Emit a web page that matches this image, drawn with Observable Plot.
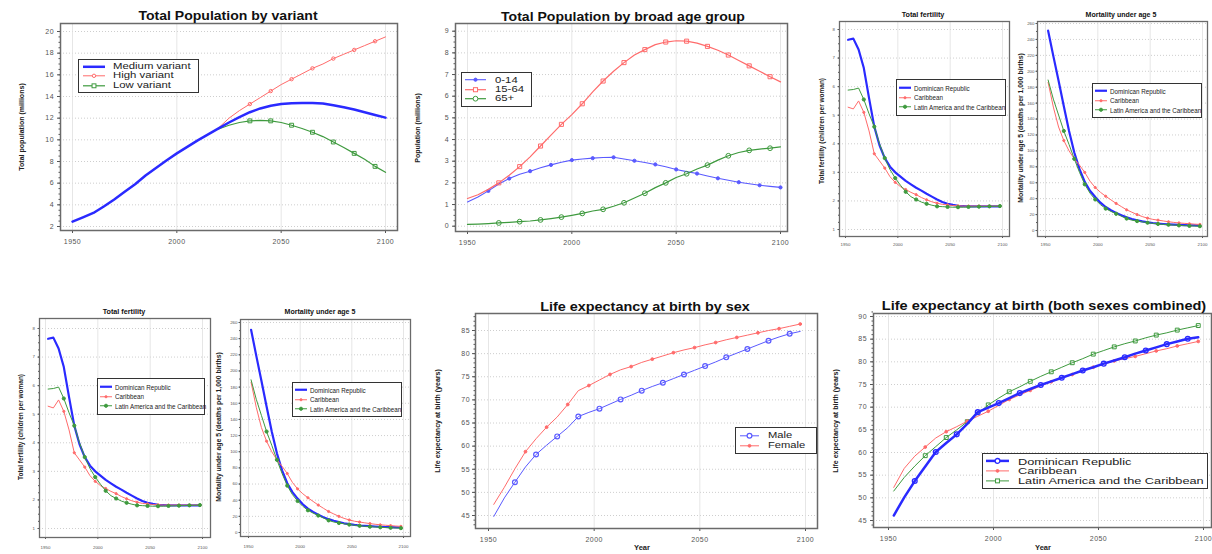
<!DOCTYPE html>
<html><head><meta charset="utf-8">
<script src="https://cdn.jsdelivr.net/npm/d3@7"></script>
<script src="https://cdn.jsdelivr.net/npm/@observablehq/plot@0.6"></script>
<style>
body{margin:0;background:#fff;}
#root{position:relative;width:1212px;height:554px;overflow:hidden;background:#fff;font-family:"Liberation Sans",Arial,sans-serif;}
.ttl{position:absolute;white-space:nowrap;font-weight:bold;color:#111;line-height:1;}
.ylab{position:absolute;white-space:nowrap;font-weight:bold;color:#222;line-height:1;}
.leg{position:absolute;border:1px solid #333;background:#fff;box-sizing:border-box;display:flex;flex-direction:column;justify-content:center;}
.leg .row{display:flex;align-items:center;white-space:nowrap;color:#222;overflow:visible;}
svg{position:absolute;}
</style></head><body><div id="root"></div><script>
// ---------- data ----------
const yearsFull = [1950,1955,1960,1965,1970,1975,1980,1985,1990,1995,2000,2005,2010,2015,2020,2025,2030,2035,2040,2045,2050,2055,2060,2065,2070,2075,2080,2085,2090,2095,2100];
const yearsMid = [1952.5,1957.5,1962.5,1967.5,1972.5,1977.5,1982.5,1987.5,1992.5,1997.5,2002.5,2007.5,2012.5,2017.5,2022.5,2027.5,2032.5,2037.5,2042.5,2047.5,2052.5,2057.5,2062.5,2067.5,2072.5,2077.5,2082.5,2087.5,2092.5,2097.5];
const yearsProj = [2020,2025,2030,2035,2040,2045,2050,2055,2060,2065,2070,2075,2080,2085,2090,2095,2100];
const xTickYears = [1950,2000,2050,2100];

const popMedium = [2.45,2.85,3.25,3.85,4.5,5.2,5.9,6.7,7.4,8.1,8.75,9.35,9.95,10.5,11.05,11.6,12.1,12.55,12.9,13.15,13.3,13.38,13.4,13.4,13.35,13.2,13.0,12.8,12.55,12.3,12.05];
const popHigh = [11.1,12.0,12.7,13.3,13.9,14.5,15.1,15.6,16.1,16.6,17.0,17.5,17.9,18.3,18.7,19.1,19.5];
const popLow = [11.0,11.35,11.6,11.75,11.8,11.75,11.6,11.35,11.05,10.7,10.3,9.8,9.3,8.75,8.2,7.55,7.0];

const age0014 = [1.12,1.35,1.63,1.95,2.2,2.4,2.54,2.7,2.83,2.95,3.05,3.1,3.14,3.17,3.18,3.1,3.02,2.94,2.85,2.74,2.62,2.52,2.43,2.32,2.21,2.12,2.03,1.96,1.89,1.84,1.79];
const age1564 = [1.28,1.45,1.7,2.0,2.35,2.75,3.2,3.7,4.2,4.7,5.15,5.65,6.2,6.7,7.15,7.55,7.9,8.15,8.38,8.5,8.56,8.54,8.45,8.3,8.12,7.9,7.65,7.4,7.15,6.9,6.66];
const age65plus = [0.08,0.1,0.12,0.15,0.18,0.21,0.24,0.29,0.35,0.42,0.5,0.59,0.7,0.78,0.92,1.08,1.3,1.52,1.78,2.0,2.25,2.42,2.64,2.82,3.05,3.25,3.4,3.5,3.56,3.6,3.66];

const fertDR  = [7.64,7.68,7.3,6.65,5.6,4.6,3.95,3.5,3.2,3.0,2.85,2.7,2.58,2.46,2.36,2.25,2.15,2.05,1.96,1.9,1.86,1.83,1.82,1.81,1.81,1.81,1.81,1.81,1.81,1.81];
const fertCar = [5.28,5.22,5.5,5.1,4.45,3.65,3.4,3.15,2.85,2.65,2.5,2.4,2.3,2.22,2.12,2.04,1.97,1.92,1.88,1.86,1.84,1.83,1.82,1.82,1.82,1.82,1.82,1.82,1.82,1.82];
const fertLAC = [5.88,5.9,5.95,5.55,5.05,4.6,4.0,3.5,3.1,2.8,2.55,2.32,2.15,2.05,1.96,1.9,1.85,1.81,1.8,1.79,1.78,1.78,1.78,1.79,1.79,1.8,1.8,1.81,1.81,1.82];

const mortDR  = [251,219,188,156,125,98,77,61,50,42,35,29.5,25.5,22,19,16.5,14.5,12.8,11.4,10.3,9.4,8.7,8.2,7.8,7.4,7.1,6.8,6.6,6.4,6.2];
const mortCar = [186,155,130,113,100,90,82,73,62,54,48,43,38.5,34,30,26,23,20,17.5,15.5,14,13,12,11,10.2,9.5,9,8.5,8,7.6];
const mortLAC = [189,165,145,125,108,90,73,58,47,39,32.5,27.5,24,21,18,15,13,11.8,10.8,9.8,9,8.3,7.7,7.2,6.8,6.4,6.1,5.8,5.6,5.4];

const leMale   = [44.8,48.8,52.2,55.5,58.2,60.2,62.1,64.0,66.4,67.3,68.1,69.1,70.1,71.0,72.0,72.9,73.7,74.6,75.5,76.4,77.3,78.2,79.2,80.1,81.0,81.9,82.8,83.6,84.3,84.8];
const leFemale = [47.4,51.1,55.1,58.8,61.6,64.1,66.3,69.0,72.0,73.1,74.3,75.5,76.5,77.2,78.1,78.8,79.5,80.2,80.8,81.3,81.9,82.4,83.0,83.5,84.0,84.5,85.0,85.4,85.9,86.4];

const leDR  = [46.1,50.1,53.7,56.9,60.1,62.1,64.0,66.3,68.9,69.9,70.9,72.0,73.1,74.0,74.9,75.7,76.5,77.3,78.1,78.8,79.6,80.3,81.0,81.8,82.5,83.2,83.9,84.5,85.1,85.4];
const leCar = [52.3,56.5,59.2,61.2,63.2,64.6,65.7,66.9,68.0,69.1,70.4,71.7,72.7,73.7,74.7,75.6,76.4,77.2,78.0,78.8,79.5,80.2,80.7,81.2,81.8,82.4,82.9,83.5,84.0,84.5];
const leLAC = [51.5,54.5,57.0,59.3,61.3,63.3,65.0,66.8,68.5,70.5,72.0,73.4,74.5,75.7,76.8,77.8,78.8,79.8,80.7,81.7,82.5,83.3,84.0,84.6,85.3,85.9,86.4,87.0,87.5,88.0];

const ticksPop = [2,4,6,8,10,12,14,16,18,20];
const ticksAge = [0,1,2,3,4,5,6,7,8,9];
const ticksFert = [1,2,3,4,5,6,7,8];
const ticksMort = [0,20,40,60,80,100,120,140,160,180,200,220,240,260];
const ticksLE1 = [45,50,55,60,65,70,75,80,85];
const ticksLE2 = [45,50,55,60,65,70,75,80,85,90];

// ---------- styles ----------
const C = {blueThick:"#2a2aff", blueThin:"#5a5aff", red:"#ff6b6b", green:"#3e9a3e"};
const BIG = {fs:7, xs:3, xp:5.5, ys:3, yp:3.5, ms:1.5, ls:0.45, fw:1.5};
const SMALL = {fs:4.4, xs:2, xp:4.3, ys:1.5, yp:1.5, ms:1, ls:0, fw:1.3};
const root = document.getElementById("root");

function lin(cal, e0, e1){const [p0,v0,p1,v1]=cal;const k=(v1-v0)/(p1-p0);return [v0+(e0-p0)*k, v0+(e1-p0)*k];}

function panel(c){
  const T=c.t, f=c.frame, ml=45, mr=6, mt=6, mb=26;
  const marks=[
    Plot.gridY(c.yTicks,{stroke:"#c2c2c2",strokeOpacity:1,strokeDasharray:"1,2",strokeWidth:0.8}),
    Plot.gridX(xTickYears,{stroke:"#e0e0e0",strokeOpacity:1,strokeWidth:0.8}),
    Plot.axisX(xTickYears,{tickSize:T.xs,tickPadding:c.xp??T.xp,fontSize:T.fs,label:null,tickFormat:d=>String(d)}),
    Plot.axisY(c.yTicks,{tickSize:T.ys,tickPadding:c.yp??T.yp,fontSize:T.fs,label:null,tickFormat:d=>String(d)}),
    Plot.axisY(c.yMinor,{tickSize:T.ms,tickFormat:()=>"",label:null})
  ];
  for(const s of c.series){
    const tbl=s.x.map((x,i)=>({x,y:s.y[i],i}));
    marks.push(Plot.line(tbl,{x:"x",y:"y",stroke:s.color,strokeWidth:s.w}));
    if(s.m){
      const m=s.m;
      marks.push(Plot.dot(tbl.filter(d=>d.i>=m.start&&(d.i-m.start)%2===0),{x:"x",y:"y",r:m.r,symbol:m.symbol,stroke:s.color,fill:m.fill?s.color:"none",strokeWidth:m.sw||1}));
    }
  }
  marks.push(Plot.frame({stroke:"#6a6a6a",strokeWidth:T.fw}));
  const svg=Plot.plot({
    width:f.r-f.l+ml+mr, height:f.b-f.t+mt+mb,
    marginLeft:ml, marginRight:mr, marginTop:mt, marginBottom:mb,
    x:{domain:lin(c.xcal,f.l,f.r)}, y:{domain:lin(c.ycal,f.b,f.t)},
    style:{fontFamily:"Liberation Sans, Arial, sans-serif",fontSize:T.fs+"px",color:"#555",background:"transparent",overflow:"visible"},
    marks
  });
  svg.style.left=(f.l-ml)+"px"; svg.style.top=(f.t-mt)+"px";
  svg.querySelectorAll("text").forEach(t=>t.style.letterSpacing=T.ls+"px");
  root.append(svg);
  text("ttl",c.title[0],c.title[1],c.title[2],c.title[3],c.title[4]);
  text("ylab",c.ylab[0],c.ylab[1],c.ylab[2],c.ylab[3],c.ylab[4]);
  if(c.xlab) text("ylab",c.xlab[0],c.xlab[1],c.xlab[2],c.xlab[3],1,true);
  legend(c.leg, c.legItems, c.legOpt);
}

function text(cls,s,x,y,fs,sx,horiz){
  const d=document.createElement("div");d.className=cls;d.textContent=s;
  d.style.left=x+"px";d.style.top=y+"px";d.style.fontSize=fs+"px";
  d.style.transform=(cls==="ylab"&&!horiz)?`translate(-50%,-50%) rotate(-90deg) scaleX(${sx})`:`translate(-50%,-50%) scaleX(${sx})`;
  root.append(d);
}

function legend(b,items,o){
  const ns="http://www.w3.org/2000/svg";
  const d=document.createElement("div");d.className="leg";
  Object.assign(d.style,{left:b[0]+"px",top:b[1]+"px",width:b[2]+"px",height:b[3]+"px",paddingLeft:o.pad+"px"});
  for(const it of items){
    const row=document.createElement("div");row.className="row";row.style.height=o.rowH+"px";
    const s=document.createElementNS(ns,"svg");s.setAttribute("width",o.symW);s.setAttribute("height",o.rowH);
    s.style.position="static";s.style.flex="none";s.style.overflow="visible";
    const cy=o.rowH/2,cx=o.symW/2;
    const ln=document.createElementNS(ns,"line");
    ln.setAttribute("x1",0);ln.setAttribute("x2",o.symW);ln.setAttribute("y1",cy);ln.setAttribute("y2",cy);
    ln.setAttribute("stroke",it.color);ln.setAttribute("stroke-width",it.w);s.append(ln);
    if(it.m){
      let e;
      if(it.m.symbol==="square"){const h=it.m.r*1.77;e=document.createElementNS(ns,"rect");e.setAttribute("x",cx-h/2);e.setAttribute("y",cy-h/2);e.setAttribute("width",h);e.setAttribute("height",h);}
      else{e=document.createElementNS(ns,"circle");e.setAttribute("cx",cx);e.setAttribute("cy",cy);e.setAttribute("r",it.m.r);}
      e.setAttribute("stroke",it.color);e.setAttribute("fill",it.m.fill?it.color:"#fff");e.setAttribute("stroke-width",it.m.sw||1);
      s.append(e);
    }
    row.append(s);
    const sp=document.createElement("span");sp.textContent=it.label;
    Object.assign(sp.style,{fontSize:o.fs+"px",marginLeft:o.gap+"px",display:"inline-block",transform:`scaleX(${o.sx})`,transformOrigin:"left center",lineHeight:(o.rowH-0.5)+"px"});
    row.append(sp);d.append(row);
  }
  root.append(d);
}

// ---------- series definitions ----------
const sVar=[
  {label:"High variant",x:yearsProj,y:popHigh,color:C.red,w:1,m:{symbol:"circle",r:1.7,start:3}},
  {label:"Low variant",x:yearsProj,y:popLow,color:C.green,w:1.2,m:{symbol:"square",r:2.2,start:3}},
  {label:"Medium variant",x:yearsFull,y:popMedium,color:C.blueThick,w:2.5}
];
const sAge=[
  {label:"0-14",x:yearsFull,y:age0014,color:C.blueThin,w:1.1,m:{symbol:"circle",r:1.6,start:2,fill:true}},
  {label:"15-64",x:yearsFull,y:age1564,color:C.red,w:1.2,m:{symbol:"square",r:2.3,start:3}},
  {label:"65+",x:yearsFull,y:age65plus,color:C.green,w:1.2,m:{symbol:"circle",r:2.4,start:3}}
];
const sFert=[
  {label:"Dominican Republic",x:yearsMid,y:fertDR,color:C.blueThick,w:2.2},
  {label:"Caribbean",x:yearsMid,y:fertCar,color:C.red,w:1,m:{symbol:"circle",r:1.1,start:3,fill:true}},
  {label:"Latin America and the Caribbean",x:yearsMid,y:fertLAC,color:C.green,w:1,m:{symbol:"circle",r:1.6,start:3,fill:true}}
];
const sMort=[
  {label:"Dominican Republic",x:yearsMid,y:mortDR,color:C.blueThick,w:2.2},
  {label:"Caribbean",x:yearsMid,y:mortCar,color:C.red,w:1,m:{symbol:"circle",r:1.1,start:3,fill:true}},
  {label:"Latin America and the Caribbean",x:yearsMid,y:mortLAC,color:C.green,w:1,m:{symbol:"circle",r:1.6,start:3,fill:true}}
];
const sSex=[
  {label:"Male",x:yearsMid,y:leMale,color:C.blueThin,w:1,m:{symbol:"circle",r:2.4,start:2,sw:1.2}},
  {label:"Female",x:yearsMid,y:leFemale,color:C.red,w:1,m:{symbol:"circle",r:1.4,start:3,fill:true}}
];
const sLE=[
  {label:"Latin America and the Caribbean",x:yearsMid,y:leLAC,color:C.green,w:1,m:{symbol:"square",r:2.2,start:3}},
  {label:"Caribbean",x:yearsMid,y:leCar,color:C.red,w:1,m:{symbol:"circle",r:1.4,start:3,fill:true}},
  {label:"Dominican Republic",x:yearsMid,y:leDR,color:C.blueThick,w:2.5,m:{symbol:"circle",r:2.4,start:2,sw:1.3}}
];
const legBig={fs:8.6,sx:1.32,rowH:9.6,symW:22,gap:8,pad:4};
const legSmall={fs:6.6,sx:0.95,rowH:9.5,symW:12,gap:3,pad:2};
const byLabel=(arr,order)=>order.map(l=>arr.find(s=>s.label===l));
const order3=["Dominican Republic","Caribbean","Latin America and the Caribbean"];

// ---------- panels ----------
panel({t:BIG,frame:{l:60,r:397,t:23,b:230},xcal:[72,1950,385,2100],ycal:[226,2,31,20],
  yTicks:ticksPop,yMinor:d3.range(2,20.01,0.5),series:sVar,
  title:["Total Population by variant",228,16,12,1.17],ylab:["Total population (millions)",22,127,8,0.88],
  leg:[78,59,121,34],legItems:byLabel(sVar,["Medium variant","High variant","Low variant"]),legOpt:legBig});

panel({t:BIG,frame:{l:455,r:787,t:23,b:231},xcal:[467,1950,780,2100],ycal:[225.7,0,30.7,9],
  yTicks:ticksAge,yMinor:d3.range(0,9.01,0.25),series:sAge,
  title:["Total Population by broad age group",623,17,12,1.17],ylab:["Population (millions)",418,128,8,0.88],
  leg:[461,72,71,35],legItems:sAge,legOpt:{...legBig,rowH:9.4,symW:21,gap:9,pad:3}});

panel({t:SMALL,frame:{l:839,r:1009,t:21,b:236},xcal:[845,1950,1002,2100],ycal:[229,1,29,8],
  yTicks:ticksFert,yMinor:d3.range(1,8.01,0.25),series:sFert,yp:3,
  title:["Total fertility",923,15,8,0.9],ylab:["Total fertility (children per woman)",822,131,6.5,1],
  leg:[896,79,110,37],legItems:byLabel(sFert,order3),legOpt:legSmall});

panel({t:SMALL,frame:{l:1037,r:1207,t:21,b:236},xcal:[1045,1950,1202,2100],ycal:[230,0,23,260],
  yTicks:ticksMort,yMinor:d3.range(0,260.1,10),series:sMort,
  title:["Mortality under age 5",1121,15,8,0.88],ylab:["Mortality under age 5 (deaths per 1,000 births)",1021,128,6.5,1.05],
  leg:[1092,83,110,35],legItems:byLabel(sMort,order3),legOpt:legSmall});

panel({t:SMALL,frame:{l:39,r:210,t:318,b:537},xcal:[45,1950,202,2100],ycal:[528,1,328,8],
  yTicks:ticksFert,yMinor:d3.range(1,8.01,0.25),series:sFert,yp:3,xp:6,
  title:["Total fertility",124,312,8,0.9],ylab:["Total fertility (children per woman)",21,427,6.5,1],
  leg:[97,378,108,37],legItems:byLabel(sFert,order3),legOpt:legSmall});

panel({t:SMALL,frame:{l:240,r:410,t:319,b:536},xcal:[248,1950,403,2100],ycal:[532,0,322,260],
  yTicks:ticksMort,yMinor:d3.range(0,260.1,10),series:sMort,xp:6,
  title:["Mortality under age 5",320,312,8,0.88],ylab:["Mortality under age 5 (deaths per 1,000 births)",219,427,6.5,1.05],
  leg:[292,382,110,35],legItems:byLabel(sMort,order3),legOpt:legSmall});

panel({t:BIG,frame:{l:475,r:817,t:313,b:528},xcal:[488,1950,805,2100],ycal:[515,45,330,85],
  yTicks:ticksLE1,yMinor:d3.range(43,88.01,1),series:sSex,yp:2.5,
  title:["Life expectancy at birth by sex",645,307,12,1.2],ylab:["Life expectancy at birth (years)",438,421,8,0.88],
  xlab:["Year",642,548,7.5],
  leg:[735,427,82,27],legItems:sSex,legOpt:{...legBig,rowH:9.6,symW:19,gap:9,pad:4,sx:1.3}});

panel({t:BIG,frame:{l:873,r:1211,t:313,b:527},xcal:[888,1950,1203,2100],ycal:[520,45,316,90],
  yTicks:ticksLE2,yMinor:d3.range(44,91.01,1),series:sLE,
  title:["Life expectancy at birth (both sexes combined)",1044,306,12,1.21],ylab:["Life expectancy at birth (years)",836,421,8,0.88],
  xlab:["Year",1043,548,7.5],
  leg:[982,453,226,36],legItems:byLabel(sLE,order3),legOpt:{...legBig,fs:9.4,sx:1.36,rowH:9.8,symW:23,gap:9,pad:3}});
</script></body></html>
